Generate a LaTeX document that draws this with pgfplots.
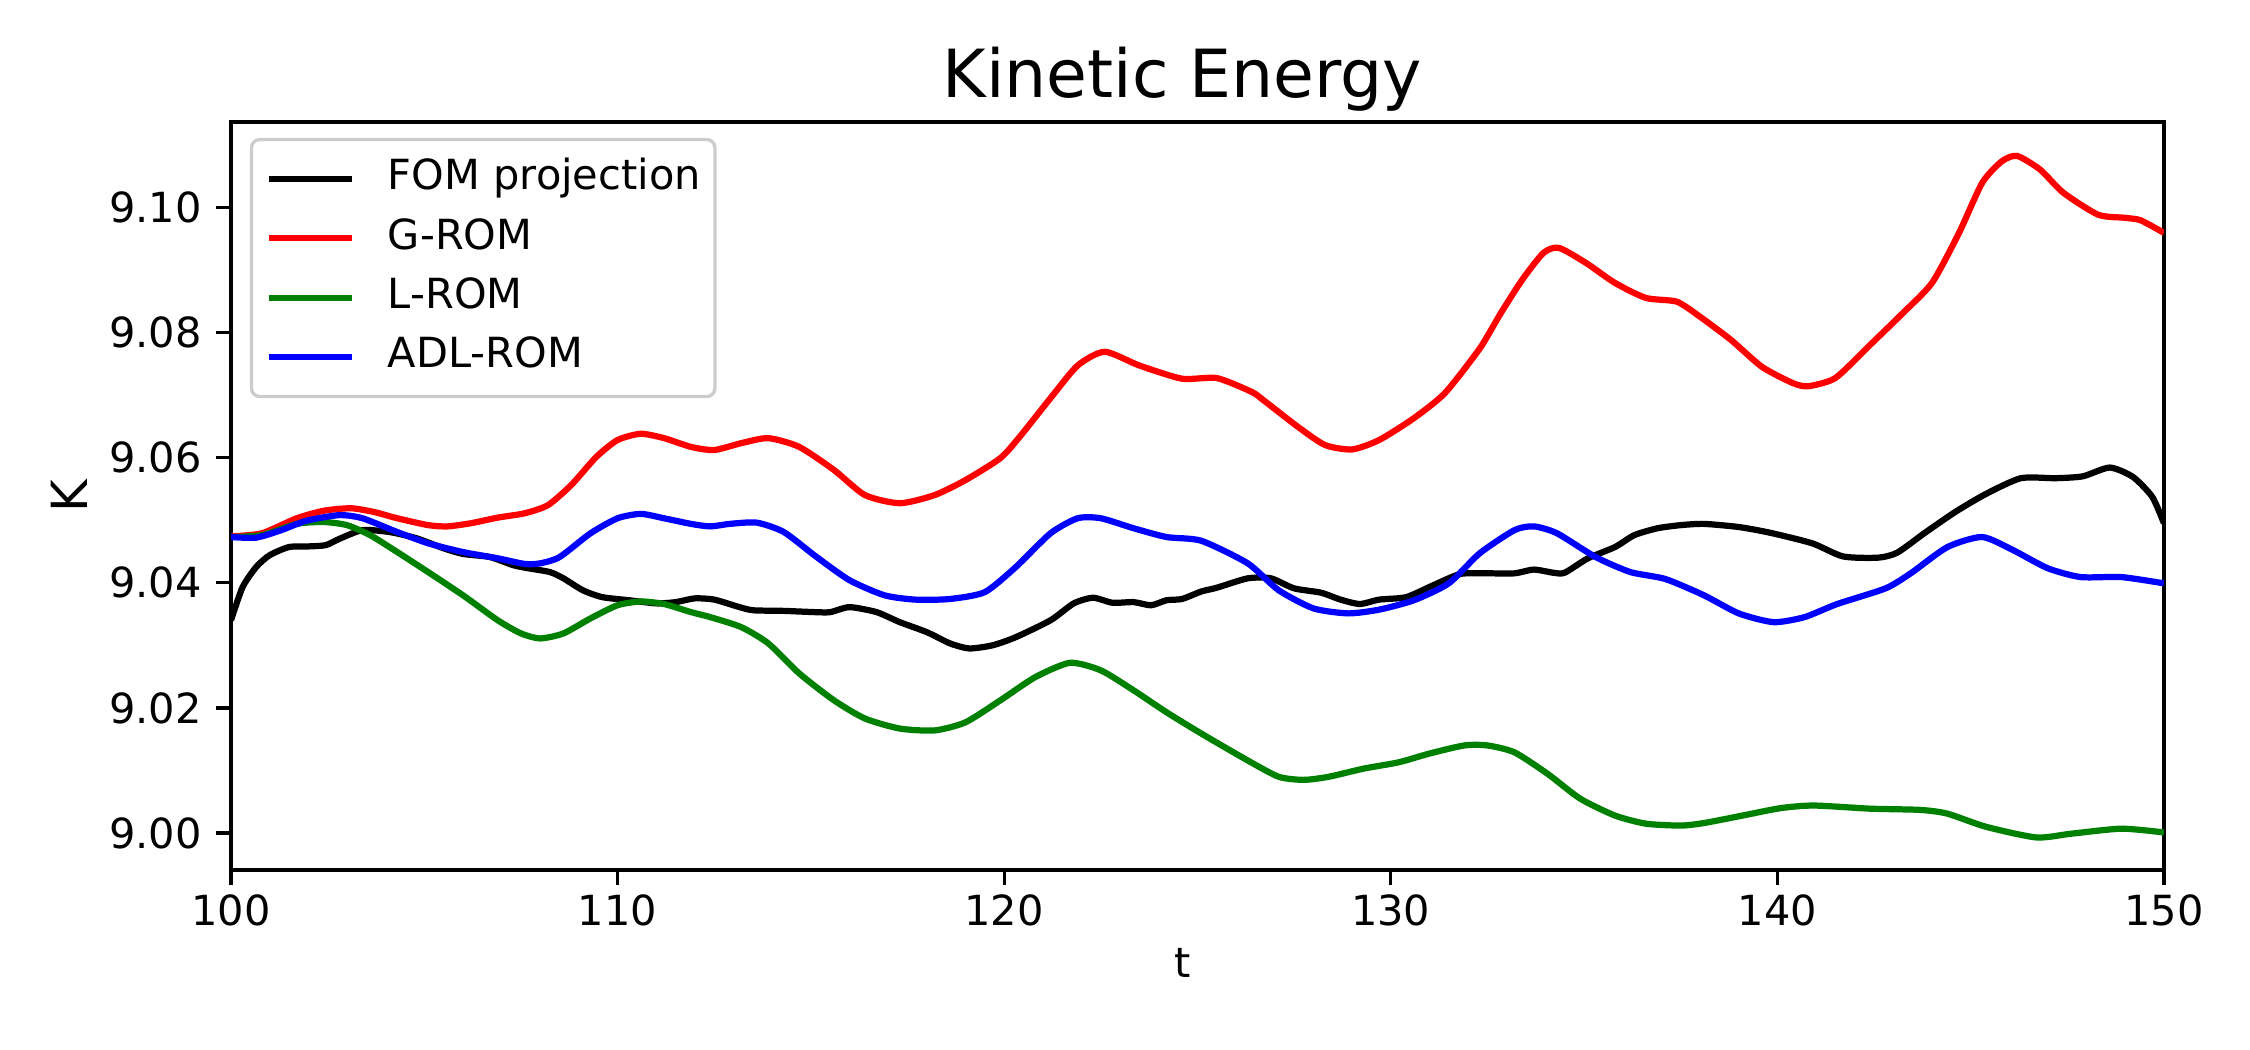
\documentclass[border=0pt]{standalone}
\usepackage{pgfplots}
\pgfplotsset{compat=1.18}
\usepackage{pgfplotstable}
\usepackage{fontspec}
\setmainfont{DejaVu Sans}
\definecolor{mplgreen}{rgb}{0,0.5,0}
\definecolor{legframe}{gray}{0.8}

\pgfplotstableread{
t K
100.0 9.0340
100.3 9.0393
100.65 9.0425
101.0 9.0444
101.5 9.0457
102.0 9.0458
102.45 9.0460
102.8 9.0470
103.4 9.0484
104.1 9.0481
104.8 9.0471
105.5 9.0455
106.0 9.0446
106.7 9.0441
107.3 9.0428
107.7 9.0423
108.25 9.0417
108.6 9.0407
109.1 9.0388
109.6 9.0377
110.3 9.0372
111.0 9.0367
111.5 9.0369
112.0 9.0375
112.5 9.0373
113.1 9.0362
113.5 9.0356
114.3 9.0355
115.1 9.0353
115.5 9.0353
116.0 9.0361
116.7 9.0353
117.3 9.0337
118.0 9.0321
118.6 9.0303
119.1 9.0295
119.7 9.0300
120.3 9.0313
121.2 9.0340
121.8 9.0367
122.3 9.0376
122.8 9.0368
123.35 9.0369
123.8 9.0364
124.2 9.0372
124.6 9.0374
125.1 9.0386
125.5 9.0392
126.3 9.0407
126.9 9.0407
127.5 9.0391
128.2 9.0384
128.7 9.0373
129.2 9.0366
129.7 9.0373
130.4 9.0377
131.1 9.0396
131.8 9.0414
132.5 9.0415
133.2 9.0415
133.7 9.0421
134.2 9.0416
134.5 9.0416
135.1 9.0439
135.8 9.0457
136.3 9.0476
136.9 9.0487
137.5 9.0492
138.1 9.0494
139.0 9.0489
139.8 9.0480
140.9 9.0463
141.7 9.0442
142.6 9.0440
143.1 9.0448
143.8 9.0479
144.6 9.0513
145.4 9.0542
146.3 9.0567
147.2 9.0567
147.9 9.0570
148.6 9.0584
149.2 9.0569
149.7 9.0537
150.0 9.0495
}\fom

\pgfplotstableread{
t K
100.0 9.0474
100.8 9.0479
101.7 9.0503
102.4 9.0515
103.1 9.0519
103.7 9.0513
104.3 9.0503
105.1 9.0492
105.6 9.0490
106.2 9.0495
106.9 9.0504
107.6 9.0511
108.2 9.0524
108.8 9.0556
109.45 9.0601
110.0 9.0628
110.6 9.0638
111.2 9.0631
111.9 9.0617
112.5 9.0612
113.2 9.0623
113.9 9.0631
114.7 9.0617
115.6 9.0580
116.4 9.0540
117.3 9.0527
118.2 9.0540
119.0 9.0564
119.9 9.0599
120.4 9.0633
121.2 9.0695
121.9 9.0747
122.6 9.0769
123.5 9.0747
124.6 9.0726
125.5 9.0727
126.4 9.0705
126.7 9.0692
127.6 9.0649
128.3 9.0620
129.0 9.0613
129.7 9.0628
130.6 9.0663
131.4 9.0703
132.3 9.0774
132.84 9.0830
133.4 9.0884
133.95 9.0927
134.35 9.0935
135.05 9.0911
135.8 9.0879
136.6 9.0855
137.4 9.0849
138.0 9.0825
138.8 9.0788
139.6 9.0745
140.4 9.0719
140.8 9.0714
141.5 9.0727
142.35 9.0777
143.2 9.0828
144.0 9.0879
144.7 9.0959
145.3 9.1039
145.8 9.1073
146.2 9.1082
146.8 9.1060
147.4 9.1023
148.3 9.0988
149.0 9.0983
149.4 9.0979
150.0 9.0959
}\grom

\pgfplotstableread{
t K
100.0 9.0473
100.8 9.0476
101.7 9.0494
102.4 9.0497
103.0 9.0492
103.6 9.0476
104.3 9.0449
105.1 9.0417
106.0 9.0380
106.9 9.0340
107.5 9.0319
108.0 9.0311
108.6 9.0319
109.3 9.0343
110.0 9.0364
110.6 9.0370
111.2 9.0366
111.9 9.0353
112.4 9.0345
113.2 9.0329
113.9 9.0303
114.7 9.0255
115.6 9.0212
116.4 9.0183
117.3 9.0167
118.2 9.0164
119.0 9.0177
119.9 9.0212
120.8 9.0249
121.7 9.0272
122.5 9.0260
123.35 9.0228
124.2 9.0193
125.1 9.0159
126.3 9.0116
127.1 9.0090
127.75 9.0085
128.4 9.0090
129.3 9.0103
130.2 9.0113
131.0 9.0127
131.9 9.0140
132.5 9.0140
133.2 9.0129
134.05 9.0095
134.9 9.0055
135.8 9.0028
136.6 9.0015
137.5 9.0012
138.1 9.0016
139.1 9.0028
140.1 9.0040
140.95 9.0044
142.4 9.0039
143.7 9.0037
144.4 9.0031
145.4 9.0010
146.7 8.9993
147.6 8.9999
148.9 9.0007
150.0 9.0001
}\lrom

\pgfplotstableread{
t K
100.0 9.0473
100.65 9.0472
101.3 9.0484
101.95 9.0499
102.8 9.0508
103.4 9.0503
104.3 9.0481
105.1 9.0463
106.0 9.0449
106.9 9.0439
107.6 9.0430
108.0 9.0431
108.5 9.0441
109.3 9.0479
110.0 9.0503
110.6 9.0510
111.2 9.0503
111.9 9.0494
112.4 9.0490
112.9 9.0494
113.6 9.0496
114.3 9.0481
115.15 9.0441
116.0 9.0404
116.9 9.0380
117.7 9.0373
118.6 9.0374
119.5 9.0385
120.3 9.0425
121.2 9.0479
121.9 9.0503
122.5 9.0503
123.35 9.0487
124.2 9.0473
125.1 9.0467
126.3 9.0431
127.1 9.0388
128.0 9.0359
128.9 9.0351
129.7 9.0357
130.6 9.0372
131.5 9.0399
132.3 9.0447
133.2 9.0484
133.7 9.0490
134.3 9.0479
135.3 9.0441
136.2 9.0417
137.1 9.0406
138.1 9.0380
139.0 9.0351
139.9 9.0337
140.7 9.0345
141.55 9.0366
142.8 9.0391
143.45 9.0415
144.4 9.0457
145.3 9.0473
146.1 9.0452
147.0 9.0423
147.85 9.0409
148.9 9.0409
150.0 9.0399
}\adlrom

\begin{document}
\begin{tikzpicture}
\useasboundingbox (0,0) rectangle (540bp,252bp);
\begin{axis}[
  at={(55.44bp,43.2bp)}, anchor=south west,
  width=463.9bp, height=179.5bp, scale only axis,
  xmin=100, xmax=150, ymin=8.9941, ymax=9.1136,
  xtick={100,110,120,130,140,150},
  ytick={9.00,9.02,9.04,9.06,9.08,9.10},
  tick align=outside, major tick length=3.5pt,
  tick style={line width=0.8pt, black},
  axis line style={line width=0.8pt},
  xtick pos=bottom, ytick pos=left,
  minor tick num=0,
  ticklabel style={font=\fontsize{10}{12}\selectfont},
  /pgf/number format/assume math mode=true,
  yticklabel style={/pgf/number format/.cd, fixed, fixed zerofill, precision=2},
  xticklabel style={yshift=1.2bp, /pgf/number format/.cd, fixed, precision=0},
  scaled y ticks=false,
  every axis title shift=0pt,
  title={Kinetic Energy},
  title style={font=\fontsize{16}{19}\selectfont, at={(axis description cs:0.4922,1.0329)}, anchor=base},
  xlabel={t}, ylabel={K},
  xlabel style={font=\fontsize{10}{12}\selectfont, at={(axis description cs:0.4922,-0.1443)}, anchor=base},
  ylabel style={font=\fontsize{12}{14}\selectfont, at={(axis description cs:-0.0745,0.5)}, anchor=base},
  legend cell align=left,
  legend image code/.code={\draw[#1] (0pt,0pt) -- (20pt,0pt);},
  legend style={
    at={(axis description cs:0,1)}, anchor=north west,
    xshift=4.5bp, yshift=-3.8bp,
    draw=legframe, line width=0.8pt, rounded corners=2pt,
    fill=white, fill opacity=0.8, text opacity=1,
    font=\fontsize{10}{12}\selectfont,
    inner xsep=3.4pt, inner ysep=4.5pt, row sep=4.3pt,
    nodes={inner sep=0pt, text height=7.6pt, text depth=2.4pt},
    /tikz/every odd column/.append style={column sep=8pt},
  },
]
\addplot[black, line width=1.5pt, smooth, tension=0.4] table[x=t,y=K] {\fom};
\addlegendentry{FOM projection}
\addplot[red, line width=1.5pt, smooth, tension=0.4] table[x=t,y=K] {\grom};
\addlegendentry{G-ROM}
\addplot[mplgreen, line width=1.5pt, smooth, tension=0.4] table[x=t,y=K] {\lrom};
\addlegendentry{L-ROM}
\addplot[blue, line width=1.5pt, smooth, tension=0.4] table[x=t,y=K] {\adlrom};
\addlegendentry{ADL-ROM}
\end{axis}
\end{tikzpicture}
\end{document}
